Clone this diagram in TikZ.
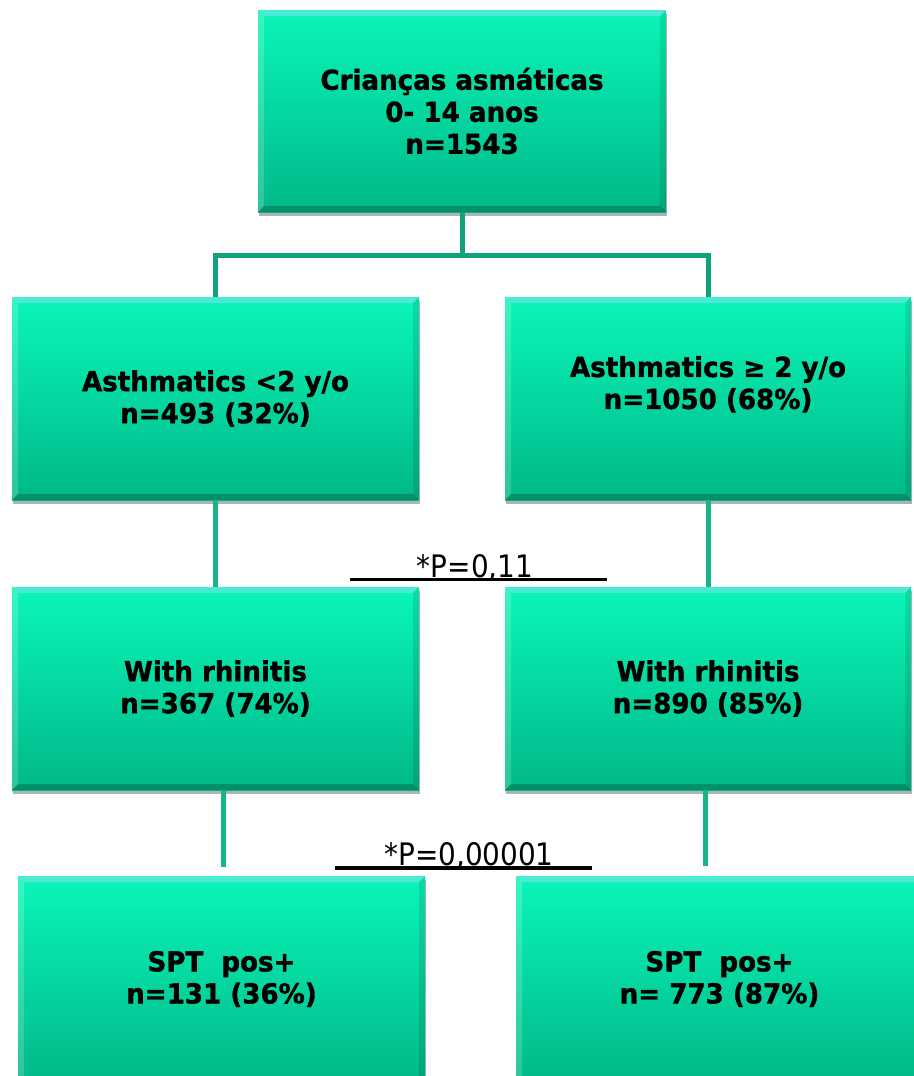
\documentclass[tikz,border=0pt]{standalone}
\usepackage{fontspec}
\setmainfont{DejaVu Sans}[FakeStretch=0.95, BoldFeatures={FakeBold=1.2}]
\newfontfamily\plfont{DejaVu Sans Condensed}
\usetikzlibrary{shadows}
\definecolor{boxtop}{RGB}{10,246,184}
\definecolor{boxbot}{RGB}{0,184,136}
\definecolor{conntop}{RGB}{14,163,122}
\definecolor{connlow}{RGB}{18,182,136}
\tikzset{
  bevel/.style={path picture={
    \path (path picture bounding box.north west) coordinate (NW)
          (path picture bounding box.north east) coordinate (NE)
          (path picture bounding box.south west) coordinate (SW)
          (path picture bounding box.south east) coordinate (SE);
    \fill[cyan!40!white,opacity=0.45] (NW) -- (NE) -- ([shift={(-6pt,-6pt)}]NE) -- ([shift={(6pt,-6pt)}]NW) -- cycle;
    \fill[white,opacity=0.18] (NW) -- ([shift={(6pt,-6pt)}]NW) -- ([shift={(6pt,6pt)}]SW) -- (SW) -- cycle;
    \fill[black,opacity=0.10] (NE) -- ([shift={(-6pt,-6pt)}]NE) -- ([shift={(-6pt,6pt)}]SE) -- (SE) -- cycle;
    \fill[black,opacity=0.22] (SW) -- ([shift={(6pt,6pt)}]SW) -- ([shift={(-6pt,6pt)}]SE) -- (SE) -- cycle;
  }},
  flowbox/.style={rectangle, top color=boxtop, bottom color=boxbot,
    minimum width=407pt, minimum height=203pt, inner sep=0pt,
    align=center, font=\bfseries\fontsize{27.5}{32}\selectfont,
    drop shadow={shadow xshift=1pt, shadow yshift=-4pt, opacity=0.3, fill=black},
    bevel},
  conna/.style={draw=conntop, line width=5pt},
  connb/.style={draw=connlow, line width=5pt},
  plabel/.style={font=\plfont\fontsize{31}{36}\selectfont, inner sep=0pt},
  uline/.style={draw=black, line width=3.5pt}
}
\begin{document}
\begin{tikzpicture}[x=1pt,y=-1pt]
\useasboundingbox (0,0) rectangle (913,1076);

\node[flowbox, minimum width=408pt, minimum height=202pt] (top) at (462,111) {Crianças asmáticas\\0- 14 anos\\n=1543};
\node[flowbox] (r2l) at (215.5,398.5) {Asthmatics <2 y/o\\n=493 (32\%)};
\node[flowbox, minimum width=406pt] (r2r) at (708,398.5) {Asthmatics ≥ 2 y/o\\n=1050 (68\%)\\~};
\node[flowbox] (r3l) at (215.5,688.5) {With rhinitis\\n=367 (74\%)};
\node[flowbox, minimum width=406pt] (r3r) at (708,688.5) {With rhinitis\\n=890 (85\%)};
\node[flowbox, minimum height=206pt] (r4l) at (221.5,979) {SPT\ \ pos+\\n=131 (36\%)};
\node[flowbox, minimum height=206pt] (r4r) at (719.5,979) {SPT\ \ pos+\\n= 773 (87\%)};

\coordinate (hb) at (462,255);
\draw[conna] (top.south) -- (hb);
\draw[conna] (r2l.north) |- (hb) -| (r2r.north);
\draw[connb] (r2l.south) -- (r3l.north);
\draw[connb] (r2r.south) -- (r3r.north);

\coordinate (c1) at (223.5,867);
\coordinate (c2) at (705,866);
\draw[connb] (r3l.south -| c1) -- (c1);
\draw[connb] (r3r.south -| c2) -- (c2);

\node[plabel, anchor=base] (p1) at (475,577) {*P=0,11};
\coordinate (p1a) at (350,579.5);
\coordinate (p1b) at (607,579.5);
\draw[uline] (p1a) -- (p1b);

\node[plabel, anchor=base] (p2) at (469,865) {*P=0,00001};
\coordinate (p2a) at (335,868);
\coordinate (p2b) at (592,868);
\draw[uline] (p2a) -- (p2b);
\end{tikzpicture}
\end{document}
